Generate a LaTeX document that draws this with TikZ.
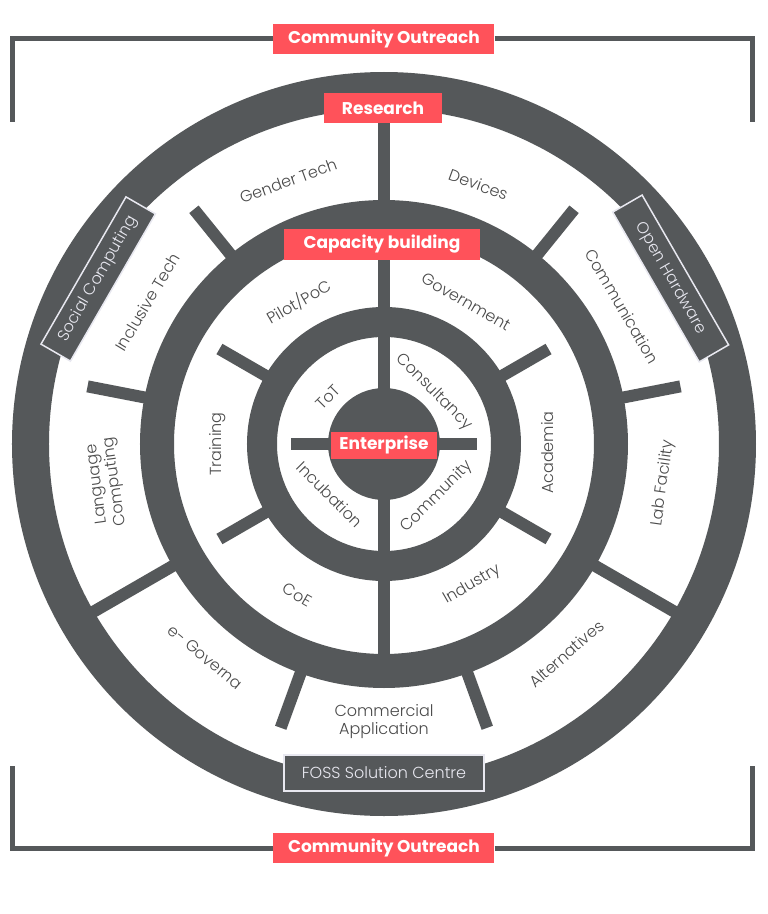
\documentclass[tikz,border=0pt]{standalone}
\usepackage{fontspec}
\setmainfont{Poppins}
\newfontfamily\thinfont{Poppins Light}
\definecolor{wheelgray}{HTML}{55585A}
\definecolor{tagred}{HTML}{FF525A}
\definecolor{txtgray}{HTML}{4A4A4A}
\definecolor{rimwhite}{HTML}{E8E8F0}
\begin{document}
\begin{tikzpicture}[x=1pt,y=1pt,
    spoke/.style={draw=wheelgray, line width=12pt},
    tag/.style={fill=tagred, text=white, font=\bfseries\fontsize{17}{20}\selectfont,
      inner sep=0pt, minimum height=30pt},
    hub/.style={fill=wheelgray, draw=rimwhite, line width=1.5pt, text=rimwhite,
      font=\thinfont\fontsize{16}{19}\selectfont, inner sep=0pt, minimum height=34pt},
    lbl/.style={text=txtgray, font=\thinfont\fontsize{16}{18}\selectfont,
      align=center, inner sep=0pt}]
  \useasboundingbox[fill=white] (-384,-470) rectangle (384,444);
  % rings and hub
  \draw[wheelgray, line width=37pt] (0,0) circle (353.5);
  \draw[wheelgray, line width=34pt] (0,0) circle (227);
  \draw[wheelgray, line width=30pt] (0,0) circle (122);
  \fill[wheelgray] (0,0) circle (56);
  % spokes, outer band
  \draw[spoke] (90:240) -- (90:322);
  \draw[spoke] (210:240) -- (210:340);
  \draw[spoke] (330:240) -- (330:340);
  \draw[spoke] (11:240) -- (11:302);
  \draw[spoke] (51:240) -- (51:302);
  \draw[spoke] (129:240) -- (129:302);
  \draw[spoke] (169:240) -- (169:302);
  \draw[spoke] (250:240) -- (250:302);
  \draw[spoke] (290:240) -- (290:302);
  % spokes, middle band
  \draw[spoke] (90:134) -- (90:214);
  \draw[spoke] (270:134) -- (270:214);
  \draw[spoke] (30:134) -- (30:190);
  \draw[spoke] (150:134) -- (150:190);
  \draw[spoke] (210:134) -- (210:190);
  \draw[spoke] (330:134) -- (330:190);
  % spokes, inner band
  \draw[spoke] (90:50) -- (90:110);
  \draw[spoke] (270:50) -- (270:110);
  \draw[spoke] (0:50) -- (0:93);
  \draw[spoke] (180:50) -- (180:93);

  % outreach brackets
  \node[tag, minimum width=221pt] (reachtop) at (0,405) {Community Outreach};
  \node[tag, minimum width=221pt] (reachbot) at (0,-404) {Community Outreach};
  \coordinate (toplft) at (-371,322);
  \coordinate (toprgt) at (368,322);
  \coordinate (botlft) at (-371,-322);
  \coordinate (botrgt) at (368,-322);
  \begin{scope}[wheelgray, line width=5pt]
    \draw (reachtop.west) -| (toplft);
    \draw (reachtop.east) -| (toprgt);
    \draw (reachbot.west) -| (botlft);
    \draw (reachbot.east) -| (botrgt);
  \end{scope}

  % ring tags
  \node[tag, minimum width=118pt] (research) at (-1,336) {Research};
  \node[tag, minimum width=196pt, minimum height=31pt] (capacity) at (-2,200) {Capacity building};
  \node[tag, minimum width=106pt, minimum height=27pt] (enterprise) at (0,-1) {Enterprise};
  \node[hub, minimum width=170pt, rotate=60] (social) at (150:330) {Social Computing};
  \node[hub, minimum width=173pt, rotate=-60] (openhw) at (30:331) {Open Hardware};
  \node[hub, minimum width=200pt, minimum height=36pt] (foss) at (270:329) {FOSS Solution Centre};

  % outer band labels
  \node[lbl, rotate=-20] (devices) at (70:276) {Devices};
  \node[lbl, rotate=20] (gender) at (110:280) {Gender Tech};
  \node[lbl, rotate=59] (inclusive) at (149:276) {Inclusive Tech};
  \node[lbl, rotate=98] (language) at (188:280) {Language\\Computing};
  \node[lbl, rotate=-40] (egov) at (230:278) {e- Governa};
  \node[lbl] (commercial) at (270:278) {Commercial\\Application};
  \node[lbl, rotate=41] (alternatives) at (311:278) {Alternatives};
  \node[lbl, rotate=82] (lab) at (352:282) {Lab Facility};
  \node[lbl, rotate=-60] (communication) at (30:275) {Communication};
  % middle band labels
  \node[lbl, rotate=-30] (government) at (60:164) {Government};
  \node[lbl, rotate=30] (pilot) at (121:166) {Pilot/PoC};
  \node[lbl, rotate=90] (training) at (180:166) {Training};
  \node[lbl, rotate=-30] (coe) at (240:174) {CoE};
  \node[lbl, rotate=30] (industry) at (302:166) {Industry};
  \node[lbl, rotate=90] (academia) at (357:164) {Academia};
  % inner band labels
  \node[lbl, rotate=-45] (consultancy) at (46:72) {Consultancy};
  \node[lbl, rotate=45] (tot) at (140:73) {ToT};
  \node[lbl, rotate=-45] (incubation) at (223:74) {Incubation};
  \node[lbl, rotate=45] (community) at (315:75) {Community};
\end{tikzpicture}
\end{document}
